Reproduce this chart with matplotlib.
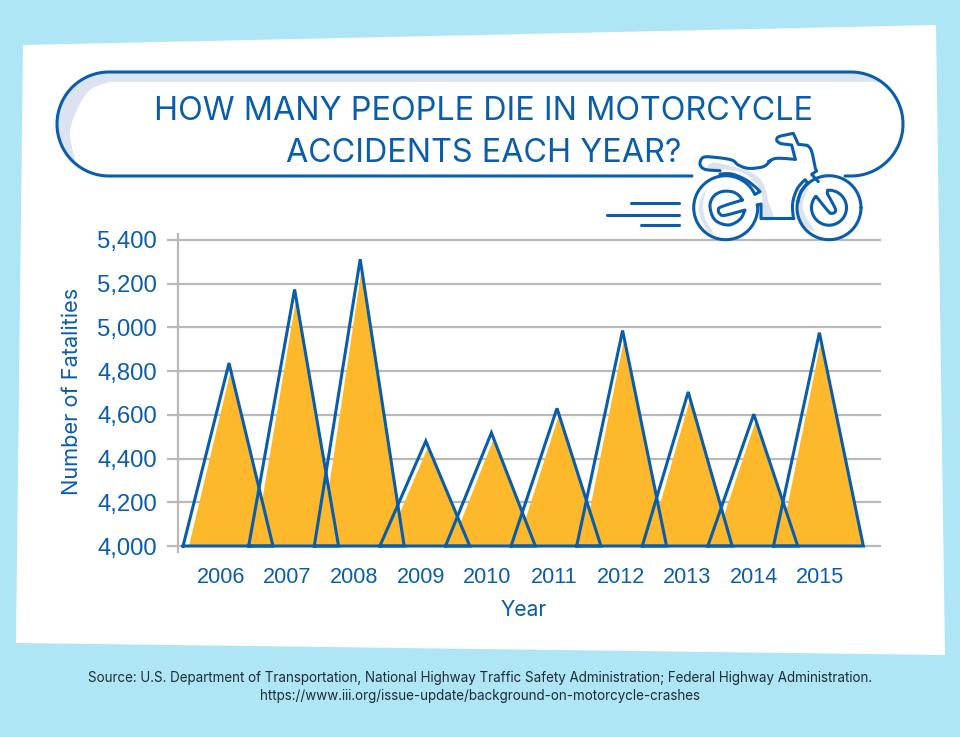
import numpy as np
import matplotlib
matplotlib.use('Agg')
import matplotlib.pyplot as plt
from matplotlib.patches import Polygon, Circle

years = [2006, 2007, 2008, 2009, 2010, 2011, 2012, 2013, 2014, 2015]
fatalities = [4837, 5174, 5312, 4480, 4518, 4630, 4986, 4705, 4603, 4976]
y_ticks = [4000, 4200, 4400, 4600, 4800, 5000, 5200, 5400]

BLUE = '#0a5dad'
GOLD = '#fdb92b'
SKY = '#aee6f6'
LAV = '#dbe2f0'
GREY = '#b9b9b9'

plt.rcParams['font.family'] = ['Inter', 'DejaVu Sans']

fig = plt.figure(figsize=(9.6, 7.37), dpi=100, facecolor=SKY)

# decoration layer, in pixel coordinates
bg = fig.add_axes([0, 0, 1, 1], zorder=0)
bg.set_xlim(0, 960)
bg.set_ylim(737, 0)
bg.axis('off')
bg.add_patch(Polygon([(23, 45), (936, 25), (945, 655), (16, 643)], fc='white', ec='none'))

# chart
ax = fig.add_axes([178/960, 1-546/737, (880-178)/960, 306/737], zorder=1)
ax.patch.set_alpha(0)
left = 0.70
right = 0.67
for i, v in enumerate(fatalities):
    ax.fill([i-left+0.09, i+0.03, i+right], [4000, v-30, 4000], color=GOLD, lw=0, zorder=3)
for i, v in enumerate(fatalities):
    ax.plot([i-left, i, i+right, i-left], [4000, v, 4000, 4000], color=BLUE, lw=2.2,
            solid_joinstyle='miter', zorder=4, clip_on=False)
ax.set_xlim(-51/65.6, 651/65.6)
ax.set_ylim(4000, 5400)
ax.set_yticks(y_ticks)
ax.set_yticklabels([f'{t:,}' for t in y_ticks], fontsize=17.2, color=BLUE, family='Liberation Sans')
# the year labels run a little wider than the triangles
ax.set_xticks((-8 + 66.6*np.arange(len(years))) / 65.6)
ax.set_xticklabels(years, fontsize=15.6, color=BLUE, family='Liberation Sans')
ax.tick_params(axis='x', length=0, pad=15)
ax.tick_params(axis='y', length=8, width=1.6, color=GREY, pad=7)
ax.grid(axis='y', color=GREY, lw=1.6, zorder=1)
for gl in ax.get_ygridlines():
    gl.set_clip_on(False)
for s in ['top', 'right', 'bottom']:
    ax.spines[s].set_visible(False)
ax.spines['left'].set_color(GREY)
ax.spines['left'].set_linewidth(1.6)
ax.spines['left'].set_bounds(3972, 5427)
ax.set_axisbelow(True)
ax.set_xlabel('Year', fontsize=15.2, color=BLUE)
ax.xaxis.set_label_coords(0.492, -0.176)
ax.set_ylabel('Number of Fatalities', fontsize=15.7, color=BLUE)
ax.yaxis.set_label_coords(-0.137, 0.506)

# overlay for title bubble and motorcycle
top = fig.add_axes([0, 0, 1, 1], zorder=2)
top.set_xlim(0, 960)
top.set_ylim(737, 0)
top.axis('off')
top.patch.set_alpha(0)


def arc_pts(cx, cy, r, a1, a2, n=60):
    # angles in degrees, counted with y pointing up on screen
    t = np.radians(np.linspace(a1, a2, n))
    return list(zip(cx + r*np.cos(t), cy - r*np.sin(t)))


def smooth(pts, n=8):
    # catmull-rom through the given points
    p = np.array(pts, dtype=float)
    p = np.vstack([p[0], p, p[-1]])
    out = []
    for i in range(1, len(p)-2):
        for t in np.linspace(0, 1, n, endpoint=False):
            out.append(0.5*((2*p[i]) + (p[i+1]-p[i-1])*t
                            + (2*p[i-1]-5*p[i]+4*p[i+1]-p[i+2])*t**2
                            + (3*p[i]-p[i-1]-3*p[i+1]+p[i+2])*t**3))
    out.append(p[-1])
    return out


def line(pts, lw=2.2, z=5):
    xs, ys = zip(*pts)
    top.plot(xs, ys, color=BLUE, lw=lw, solid_capstyle='round', solid_joinstyle='round', zorder=z)


def z1(pts):
    # rear wheel crop coordinates
    return [(x/3+695, y/3+150) for x, y in pts]


def z2(pts):
    # front wheel crop coordinates
    return [(x/3+790, y/3+128) for x, y in pts]


def z6(pts):
    # whole bike crop coordinates
    return [(x/3+690, y/3+125) for x, y in pts]


# lavender shadow inside the bubble
crescent = arc_pts(109, 124, 52, 90, 229) + smooth([(75, 160), (70, 133), (77, 110), (90, 90), (110, 82)])
top.add_patch(Polygon(crescent, fc=LAV, ec='none', zorder=1))
band = [(109, 72)] + arc_pts(851, 124, 52, 90, 54, 15) + [(110, 82)]
top.add_patch(Polygon(band, fc=LAV, ec='none', zorder=1))

# bubble outline, open under the bike
outline = [(692, 176), (109, 176)] + arc_pts(109, 124, 52, 270, 90) + arc_pts(851, 124, 52, 90, -90) + [(845, 176)]
line(outline, z=2)

top.text(483.5, 111.5, 'HOW MANY PEOPLE DIE IN MOTORCYCLE', ha='center', va='center', fontsize=23.28, color=BLUE)
top.text(483.5, 153.5, 'ACCIDENTS EACH YEAR?', ha='center', va='center', fontsize=23.28, color=BLUE)

# speed lines
line([(631, 203), (679, 203)])
line([(607, 214.7), (679, 214.7)])
line([(641, 225), (679, 225)])

# motorcycle wheels
rear = (725.7, 207.7)
front = (829, 207.7)
top.add_patch(Circle(rear, 32, fc='white', ec='none', zorder=3))
top.add_patch(Circle(front, 32, fc='white', ec='none', zorder=3))

# shadows on the bike
top.add_patch(Polygon(smooth(z6([(55, 120), (75, 113), (130, 125), (190, 145), (222, 180), (235, 230), (250, 278),
                                 (215, 280), (215, 205), (170, 150), (120, 135), (60, 132), (55, 120)])),
                      fc=LAV, ec='none', zorder=3))
top.add_patch(Polygon(smooth(z1([(35, 115), (15, 150), (12, 190), (35, 240), (55, 250), (30, 205), (25, 160), (35, 115)])),
                      fc=LAV, ec='none', zorder=4))
top.add_patch(Polygon(smooth(z2([(60, 170), (30, 200), (25, 245), (40, 290), (75, 310), (50, 270), (38, 225), (60, 170)])),
                      fc=LAV, ec='none', zorder=4))

# rear wheel, open on the side of the frame
line(arc_pts(rear[0], rear[1], 32, 5, -335))
# fender and end cap
line(smooth(z1([(75, 72), (110, 72), (150, 88), (180, 110), (195, 125)])) + z1([(180, 133)]))
# seat, tank and handlebars
line(smooth(z1([(75, 62), (30, 58), (15, 42), (25, 22), (60, 22), (110, 30), (130, 45), (160, 55), (205, 50), (225, 33)]))
     + smooth(z6([(235, 110), (260, 100), (316, 103)])))
line(z6([(316, 103), (305, 60), (272, 56)]) + smooth(z6([(272, 56), (261, 48), (262, 38), (272, 33)]))
     + z6([(310, 25), (325, 58), (352, 61)]) + smooth(z6([(352, 61), (362, 72), (368, 90)]))
     + z6([(376, 130), (380, 138), (365, 148), (385, 170)]))
# frame
line([(757, 205), (761, 204), (761, 218.5), (794, 218.5)])
# front fender and end cap
line(smooth(z2([(10, 270), (8, 225), (22, 182), (45, 155)])) + z2([(53, 165)])
     + smooth(z2([(53, 165), (33, 190), (23, 225)])))
# front wheel
line(arc_pts(front[0], front[1], 32, 0, 360))
# rear hub
line(smooth(z1([(142, 150), (130, 135), (110, 125), (80, 125), (55, 140), (45, 170), (60, 210), (100, 225),
                (135, 208), (150, 180)])) + smooth(z1([(150, 180), (90, 196), (75, 192), (70, 180), (80, 170), (142, 150)])))
# front hub
line(arc_pts(front[0], front[1], 17.5, 139, 455) + smooth(z2([(112, 197), (135, 240), (135, 252), (125, 256), (115, 250), (80, 207)])))

top.text(480, 678, 'Source: U.S. Department of Transportation, National Highway Traffic Safety Administration; Federal Highway Administration.',
         ha='center', va='center', fontsize=9.67, color='#1d2b36')
top.text(480, 696, 'https://www.iii.org/issue-update/background-on-motorcycle-crashes',
         ha='center', va='center', fontsize=9.67, color='#1d2b36')

fig.savefig('out.png', dpi=100, facecolor=SKY)
